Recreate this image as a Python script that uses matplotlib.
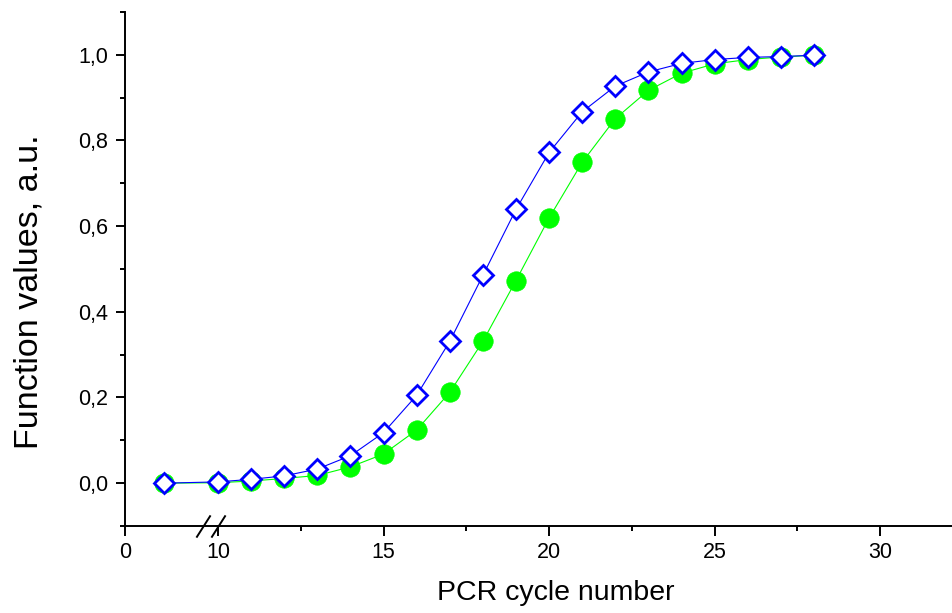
import numpy as np
import matplotlib
matplotlib.use("Agg")
import matplotlib.pyplot as plt
from matplotlib.ticker import FixedLocator, FuncFormatter
from matplotlib.transforms import blended_transform_factory

plt.rcParams['font.family'] = ['Liberation Sans', 'DejaVu Sans']

# PCR cycle numbers and the two normalised curves
cycles = [1, 10, 11, 12, 13, 14, 15, 16, 17, 18, 19, 20, 21, 22, 23, 24, 25, 26, 27, 28]
green_vals = [0.0, 0.001, 0.005, 0.011, 0.018, 0.038, 0.068, 0.124, 0.212, 0.331,
              0.473, 0.619, 0.749, 0.851, 0.917, 0.957, 0.979, 0.989, 0.995, 0.999]
blue_vals = [0.0, 0.003, 0.009, 0.017, 0.033, 0.064, 0.118, 0.205, 0.331, 0.485,
             0.639, 0.772, 0.867, 0.927, 0.960, 0.980, 0.989, 0.994, 0.996, 0.999]

x_major = [0, 10, 15, 20, 25, 30]
x_minor = [12.5, 17.5, 22.5, 27.5]
y_major = [0.0, 0.2, 0.4, 0.6, 0.8, 1.0]
y_minor = [-0.1, 0.1, 0.3, 0.5, 0.7, 0.9, 1.1]
break_at = [2, 10]

# broken x axis: 0..2 stretched a bit, 2..10 squeezed into a small gap
bx = [-10, 0, 2, 10, 60]
by = [-11.78, 0, 2.356, 2.809, 52.809]

def fwd(x):
    return np.interp(x, bx, by)

def inv(y):
    return np.interp(y, by, bx)

fig = plt.figure(figsize=(9.53, 6.13), dpi=100)
ax = fig.add_axes([125/953, 1 - 526/613, 828/953, 514/613])
ax.set_xscale('function', functions=(fwd, inv))

ax.plot(cycles, green_vals, '-', color='#00ff00', lw=0.8, zorder=2)
ax.plot(cycles, green_vals, 'o', color='#00ff00', ms=14, mec='#00ff00', mew=0.5, zorder=3)
ax.plot(cycles, blue_vals, '-', color='#0000ff', lw=0.8, zorder=4)
ax.plot(cycles, blue_vals, 'D', mfc='white', mec='#0000ff', ms=10.5, mew=2, zorder=5)

ax.set_xlim(0, 32.2)
ax.set_ylim(-0.1, 1.1)

for s in ['top', 'right']:
    ax.spines[s].set_visible(False)
for s in ['left', 'bottom']:
    ax.spines[s].set_linewidth(1.4)

ax.xaxis.set_major_locator(FixedLocator(x_major))
ax.xaxis.set_minor_locator(FixedLocator(x_minor))
ax.yaxis.set_major_locator(FixedLocator(y_major))
ax.yaxis.set_minor_locator(FixedLocator(y_minor))
ax.xaxis.set_major_formatter(FuncFormatter(lambda v, p: f"{v:g}"))
ax.yaxis.set_major_formatter(FuncFormatter(lambda v, p: f"{v:.1f}".replace('.', ',')))

ax.tick_params(axis='x', which='major', direction='out', length=7, width=1.4, labelsize=15.5, pad=4.7)
ax.tick_params(axis='y', which='major', direction='out', length=6.5, width=1.4, labelsize=15.5, pad=5.8)
ax.tick_params(which='minor', direction='out', length=3.5, width=1.4)

# break marks on the x axis
trans = blended_transform_factory(ax.transData, ax.transAxes)
for xb in break_at:
    ax.plot([xb], [0], transform=trans, marker=[(-7, -11), (7, 11)], ms=16,
            color='k', mew=1.4, clip_on=False, zorder=6)

ax.set_xlabel("PCR cycle number", fontsize=20.5)
ax.xaxis.set_label_coords((556 - 125) / 828, (526 - 580) / 514)
ax.set_ylabel("Function values, a.u.", fontsize=24.5)
ax.yaxis.set_label_coords((44 - 125) / 828, (526 - 291.5) / 514)

fig.savefig("out.png", dpi=100)
